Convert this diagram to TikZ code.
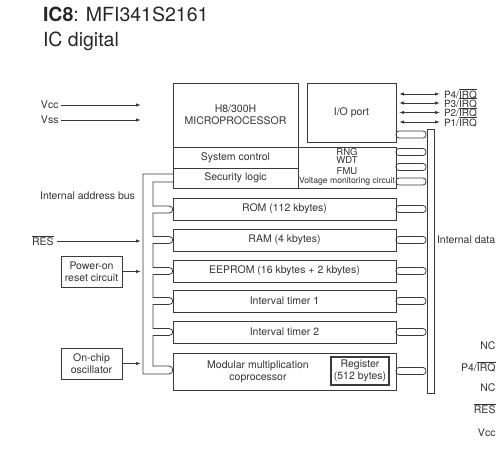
\documentclass[tikz,border=0pt]{standalone}
\usepackage{fontspec}
\setmainfont{TeX Gyre Heros}
\usetikzlibrary{arrows.meta}
\definecolor{lc}{HTML}{3A3A3A}
\definecolor{tc}{HTML}{333333}
\newcommand\ovl[1]{$\overline{\hbox{#1}}$}
\newcommand\fsn{\fontsize{10.5}{12.3}\selectfont}
\newcommand\fss{\fontsize{9.5}{9.5}\selectfont}
\begin{document}
\begin{tikzpicture}[x=1pt,y=-1pt,
  every node/.style={text=tc, font=\fsn, inner sep=0pt, outer sep=0pt},
  blk/.style={draw=lc, line width=0.8pt, anchor=north west, align=center},
  lbl/.style={anchor=west},
  ln/.style={draw=lc, line width=0.8pt},
  arr/.style={ln, -{Latex[length=5pt,width=3.4pt]}},
  darr/.style={ln, {Latex[length=5pt,width=3.4pt]}-{Latex[length=5pt,width=3.4pt]}},
  tab/.style={ln, rounded corners=3pt}]
\useasboundingbox (0,0) rectangle (496,450);

% title
\node[anchor=base west, font=\fontsize{19.5}{22}\selectfont, text=black!85] (title) at (43,21.7) {\textbf{IC8}: MFI341S2161};
\node[anchor=base west, font=\fontsize{19.5}{22}\selectfont, text=black!85] (sub) at (43,46.5) {IC digital};

% main blocks
\node[blk, minimum width=125, minimum height=64] (mpu) at (173,83) {H8/300H\\MICROPROCESSOR};
\node[blk, minimum width=125, minimum height=21] (sys) at (173,147) {System control};
\node[blk, minimum width=125, minimum height=20] (sec) at (173,168) {Security logic};
\node[blk, minimum width=89, minimum height=59] (io) at (307,83) {I/O port};
\node[blk, minimum width=98, minimum height=41] (rng) at (298,147) {};
\node[font=\fss] (rngt) at (347,152) {RNG};
\node[font=\fss] (wdt) at (347,160.5) {WDT};
\node[font=\fss] (fmu) at (347,171.5) {FMU};
\node[font=\fontsize{8.6}{9}\selectfont] (vmc) at (347,181.5) {Voltage monitoring circuit};
\node[blk, minimum width=223, minimum height=22] (rom) at (173,198) {ROM (112 kbytes)};
\node[blk, minimum width=223, minimum height=22] (ram) at (173,229) {RAM (4 kbytes)};
\node[blk, minimum width=223, minimum height=22] (eep) at (173,260) {EEPROM (16 kbytes + 2 kbytes)};
\node[blk, minimum width=223, minimum height=22] (it1) at (173,290) {Interval timer 1};
\node[blk, minimum width=223, minimum height=22] (it2) at (173,321) {Interval timer 2};
\node[blk, minimum width=223, minimum height=37] (mod) at (173,353) {};
\node[align=center] (modt) at (258,371.5) {Modular multiplication\\coprocessor};
\node[blk, line width=1.3pt, minimum width=58, minimum height=28] (reg) at (331,357) {Register\\(512 bytes)};

% side boxes
\node[blk, minimum width=61, minimum height=31] (por) at (61,256) {Power-on\\reset circuit};
\node[blk, minimum width=61, minimum height=31] (osc) at (61,348) {On-chip\\oscillator};

% left labels and arrows
\node[lbl] (vcc) at (41,105) {Vcc};
\node[lbl] (vss) at (41,120) {Vss};
\coordinate (vccend) at (141,105);
\coordinate (vssend) at (141,120);
\draw[arr] (vcc.east) ++(2,0) -- (vccend);
\draw[arr] (vss.east) ++(2,0) -- (vssend);
\node[anchor=east] (iab) at (135,196) {Internal address bus};
\node[lbl] (res) at (32,241) {\ovl{RES}};
\coordinate (resend) at (141,241);
\draw[arr] (res.east) ++(3,0) -- (resend);
\coordinate (porend) at (141,271.5);
\draw[arr] (por.east) -- (porend);
\coordinate (oscend) at (141,363.5);
\draw[arr] (osc.east) -- (oscend);

% internal address bus
\draw[ln] (173,182) -- (153,182)
 -- (153,206) -- (169,206) .. controls (174,206) and (174,213) .. (169,213) -- (153,213)
 -- (153,236.5) -- (169,236.5) .. controls (174,236.5) and (174,243.5) .. (169,243.5) -- (153,243.5)
 -- (153,267.5) -- (169,267.5) .. controls (174,267.5) and (174,274.5) .. (169,274.5) -- (153,274.5)
 -- (153,297.5) -- (169,297.5) .. controls (174,297.5) and (174,304.5) .. (169,304.5) -- (153,304.5)
 -- (153,328.5) -- (169,328.5) .. controls (174,328.5) and (174,335.5) .. (169,335.5) -- (153,335.5)
 -- (153,366) -- (169,366) .. controls (174,366) and (174,374) .. (169,374) -- (143,374)
 -- (143,174) -- (173,174);

% internal data bus
\node[blk, minimum width=7, minimum height=264] (dbus) at (427,129) {};
\node[lbl] (idb) at (437,240) {Internal data};
\foreach \c in {134.5,152,167,181.5,209,240,271,301,332,371}{
  \draw[tab] (396,\c-3.5) rectangle (426,\c+3.5);
}

% ports
\foreach \y/\p/\n in {94/4/p4,103/3/p3,112.5/2/p2,122/1/p1}{
  \coordinate (\n a) at (399,\y);
  \coordinate (\n b) at (440,\y);
  \draw[darr] (\n a) -- (\n b);
  \node[lbl, font=\fontsize{10}{10}\selectfont] (\n) at (444,\y) {P\p/\ovl{IRQ}};
}

% pin labels at the right edge
\node[anchor=east] (nc1) at (495.5,346) {NC};
\node[anchor=east] (p4r) at (495.5,367) {P4/\ovl{IRQ}};
\node[anchor=east] (nc2) at (495.5,388) {NC};
\node[anchor=east] (resr) at (495.5,409) {\ovl{RES}};
\node[anchor=east] (vccr) at (495.5,433) {Vcc};
\end{tikzpicture}
\end{document}
